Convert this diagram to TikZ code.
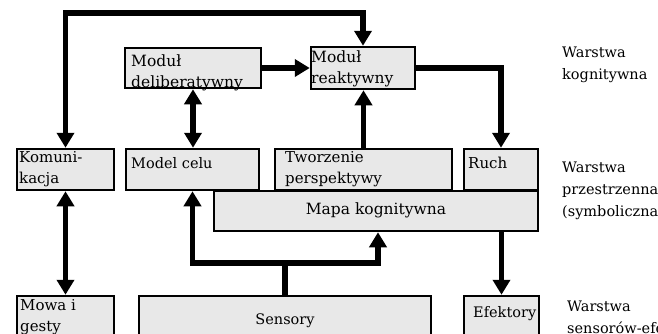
\documentclass[tikz,border=0pt]{standalone}
\usepackage{fontspec}
\setmainfont{DejaVu Serif}
\usetikzlibrary{arrows.meta}
\definecolor{boxfill}{RGB}{232,232,232}
\tikzset{
  box/.style={draw, line width=2.5pt, fill=boxfill, rectangle, inner sep=0pt},
  arr/.style={line width=5.5pt, line join=miter, -{Triangle[length=15pt,width=17pt]}},
  darr/.style={line width=5.5pt, line join=miter, {Triangle[length=15pt,width=17pt]}-{Triangle[length=15pt,width=17pt]}},
  txt/.style={anchor=north west, inner sep=0pt, align=left, font=\fontsize{15}{21.5}\selectfont},
  txttop/.style={anchor=north west, inner sep=0pt, align=left, font=\fontsize{15.5}{21}\selectfont},
  txtone/.style={inner sep=0pt, font=\fontsize{14.5}{21.5}\selectfont},
  lbl/.style={anchor=north west, inner sep=0pt, align=left, font=\fontsize{14.5}{22}\selectfont},
}
\begin{document}
\begin{tikzpicture}[x=1pt,y=-1pt]
\useasboundingbox (0,0) rectangle (658,333);
\clip (0,0) rectangle (658,333);
% boxes
\node[box, minimum width=136pt, minimum height=40pt] (delib) at (193,68) {};
\node[box, minimum width=104pt, minimum height=42pt] (reakt) at (363,68) {};
\node[box, minimum width=324pt, minimum height=40pt] (mapa) at (376,211) {};
\node[box, minimum width=97pt, minimum height=41pt] (kom) at (65.5,169.5) {};
\node[box, minimum width=133pt, minimum height=41pt] (celu) at (192.5,169.5) {};
\node[box, minimum width=177pt, minimum height=41pt] (tworz) at (363.5,169.5) {};
\node[box, minimum width=74pt, minimum height=41pt] (ruch) at (501,169.5) {};
\node[box, minimum width=97pt, minimum height=64pt] (mowa) at (65.5,328) {};
\node[box, minimum width=292pt, minimum height=64pt] (sens) at (285,328) {};
\node[box, minimum width=75pt, minimum height=64pt] (efek) at (501.5,328) {};
% texts
\node[txttop] (tdelib) at (131,51.3) {\strut Moduł\\deliberatywny};
\node[txttop] (treakt) at (311,47.3) {\strut Moduł\\reaktywny};
\node[txt] (tkom) at (19,147) {\strut Komuni-\\kacja};
\node[txt, font=\fontsize{14.5}{21.5}\selectfont] (tcelu) at (131,153) {\strut Model celu};
\node[txt] (ttworz) at (285,147) {\strut Tworzenie\\perspektywy};
\node[txt] (truch) at (468,153) {\strut Ruch};
\node[txtone, anchor=base, font=\fontsize{15.5}{21.5}\selectfont] (tmapa) at (376,214) {Mapa kognitywna};
\node[txtone, anchor=base] (tsens) at (285,324) {Sensory};
\node[txt] (tmowa) at (20,295) {\strut Mowa i\\gesty};
\node[txtone, anchor=base west] (tefek) at (473,317) {Efektory};
% layer labels
\node[lbl] (l1) at (562,41.6) {\strut Warstwa\\kognitywna};
\node[lbl] (l2) at (562,156.6) {\strut Warstwa\\przestrzenna\\(symboliczna)};
\node[lbl] (l3) at (567,295.6) {\strut Warstwa\\sensorów-efektorów};
% connectors
\coordinate (topL) at (65.5,13);
\coordinate (topR) at (363,13);
\coordinate (junc) at (285,263);
\coordinate (mapaIn) at (378,0);
\draw[darr] (kom.north) -- (topL) -- (topR) -- (reakt.north);
\draw[arr] (delib.east) -- (reakt.west);
\draw[darr] (delib.south) -- (delib.south |- celu.north);
\draw[arr] (tworz.north) -- (tworz.north |- reakt.south);
\draw[arr] (reakt.east) -| (ruch.north);
\draw[darr] (kom.south) -- (mowa.north);
\draw[line width=5.5pt] (sens.north) -- (junc);
\draw[arr] (junc) -| (celu.south);
\draw[arr] (junc) -| (mapa.south -| mapaIn);
\draw[arr] (mapa.south -| efek.north) -- (efek.north);
\end{tikzpicture}
\end{document}
